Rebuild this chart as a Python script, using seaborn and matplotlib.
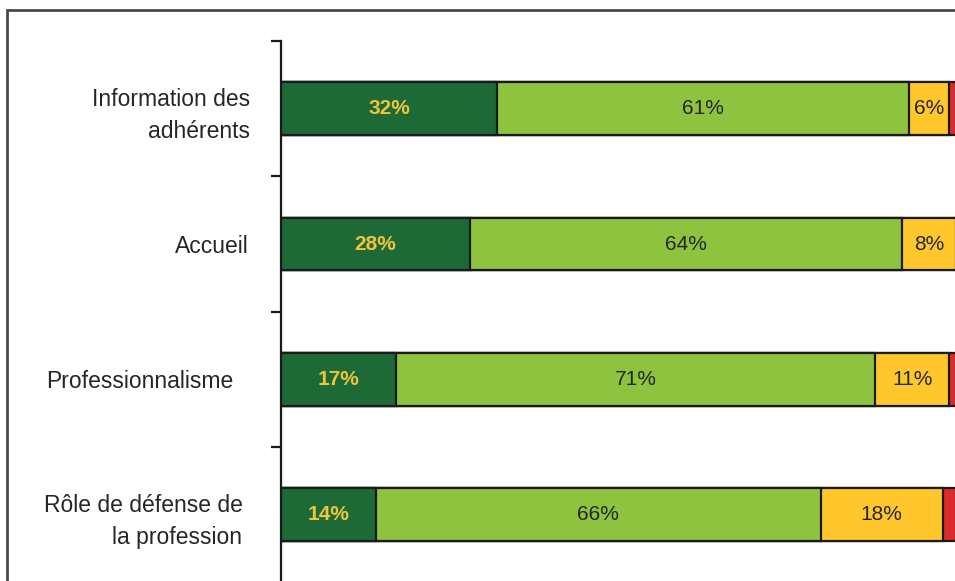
import matplotlib
matplotlib.use("Agg")
import matplotlib.pyplot as plt
import matplotlib.transforms as mtransforms
from matplotlib.patches import Rectangle
import numpy as np
import seaborn as sns

# Survey satisfaction by theme (percent of respondents)
categories = ["Information des\nadhérents", "Accueil", "Professionnalisme",
              "Rôle de défense de\nla profession"]
tres_satisfait = [32, 28, 17, 14]
satisfait = [61, 64, 71, 66]
peu_satisfait = [6, 8, 11, 18]
pas_satisfait = [1, 0, 1, 2]

series = [tres_satisfait, satisfait, peu_satisfait, pas_satisfait]
colors = ["#1d6a37", "#8dc33f", "#ffc72c", "#dc2b2b"]
label_colors = ["#efc33a", "#262626", "#262626", "#262626"]
label_weights = ["bold", "normal", "normal", "normal"]

sns.set_theme(style="white")
plt.rcParams["font.family"] = ["Liberation Sans", "DejaVu Sans"]

W, H = 955, 581
fig = plt.figure(figsize=(W / 100, H / 100), dpi=100)
fig.patch.set_facecolor("white")

ax_left, ax_right = 281, 956
ax_top, ax_bottom = 41, 582.5
ax = fig.add_axes([ax_left / W, 1 - ax_bottom / H,
                   (ax_right - ax_left) / W, (ax_bottom - ax_top) / H])

cum = np.cumsum(np.array(series), axis=0)
# Stacked bars: draw cumulative totals from the outermost segment inward
for i in range(len(series) - 1, -1, -1):
    sns.barplot(x=cum[i], y=categories, color=colors[i], orient="h",
                width=0.39, edgecolor="#1a1a1a", linewidth=1.6,
                saturation=1, ax=ax)

# Segment value labels
for i, vals in enumerate(series):
    starts = cum[i] - np.array(vals)
    for j, v in enumerate(vals):
        if v < 3:
            continue
        ax.text(starts[j] + v / 2, j, f"{v}%", ha="center", va="center",
                fontsize=15, color=label_colors[i], fontweight=label_weights[i])

ax.set_xlim(0, 100)
ax.set_ylim(3.5, -0.5)
ax.set_xlabel("")
ax.set_ylabel("")
ax.set_xticks([])

for s in ["top", "right", "bottom"]:
    ax.spines[s].set_visible(False)
ax.spines["left"].set_color("#1a1a1a")
ax.spines["left"].set_linewidth(1.6)

ax.set_yticks(range(len(categories)))
ax.set_yticklabels(categories, fontsize=16.5, color="#262626", ha="right")
ax.tick_params(axis="y", which="major", length=0, pad=22)
ax.set_yticks([-0.5, 0.5, 1.5, 2.5, 3.5], minor=True)
ax.tick_params(axis="y", which="minor", length=7, width=1.6, color="#1a1a1a",
               direction="out", left=True)

# Per-label horizontal nudges (pixels)
shifts = [0, -2, -17, -8]
for lab, dx in zip(ax.get_yticklabels(), shifts):
    lab.set_linespacing(1.5)
    lab.set_transform(lab.get_transform() +
                      mtransforms.ScaledTranslation(dx / 100, 0, fig.dpi_scale_trans))

# Outer frame of the figure panel
fig.patches.append(Rectangle((7 / W, -0.2), 1.2, 1.2 - 10 / H, transform=fig.transFigure,
                             fill=False, edgecolor="#4a4a4a", linewidth=2.0,
                             figure=fig))

fig.savefig("out.png", dpi=100, facecolor="white")
